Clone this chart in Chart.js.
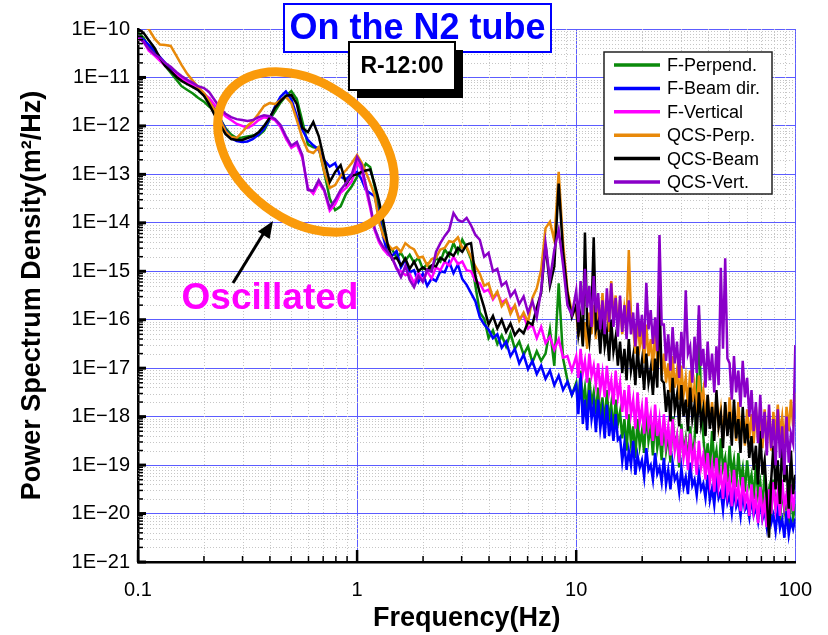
<!DOCTYPE html>
<html>
<head>
<meta charset="utf-8">
<script src="https://cdn.jsdelivr.net/npm/chart.js@4.4.1/dist/chart.umd.min.js"></script>
<style>
  html, body { margin: 0; padding: 0; background: #fff; }
  #wrap { width: 828px; height: 635px; }
</style>
</head>
<body>
<div id="wrap"><canvas id="psd" width="828" height="635"></canvas></div>
<script>
// frequency axis (Hz)
const freqs = [
  0.100,0.106,0.112,0.119,0.126,0.133,0.141,0.150,0.158,0.168,
  0.178,0.188,0.200,0.211,0.224,0.237,0.251,0.266,0.282,0.299,
  0.316,0.335,0.355,0.376,0.398,0.422,0.447,0.473,0.501,0.531,
  0.562,0.596,0.631,0.668,0.708,0.750,0.794,0.841,0.891,0.944,
  1.000,1.047,1.096,1.148,1.202,1.259,1.318,1.380,1.445,1.514,
  1.585,1.660,1.738,1.820,1.905,1.995,2.089,2.188,2.291,2.399,
  2.512,2.630,2.754,2.884,3.020,3.162,3.311,3.467,3.631,3.802,
  3.981,4.169,4.365,4.571,4.786,5.012,5.248,5.495,5.754,6.026,
  6.310,6.607,6.918,7.244,7.586,7.943,8.318,8.710,9.120,9.550,
  10.00,10.23,10.47,10.72,10.96,11.22,11.48,11.75,12.02,12.30,
  12.59,12.88,13.18,13.49,13.80,14.13,14.45,14.79,15.14,15.49,
  15.85,16.22,16.60,16.98,17.38,17.78,18.20,18.62,19.05,19.50,
  19.95,20.42,20.89,21.38,21.88,22.39,22.91,23.44,23.99,24.55,
  25.12,25.70,26.30,26.92,27.54,28.18,28.84,29.51,30.20,30.90,
  31.62,32.36,33.11,33.88,34.67,35.48,36.31,37.15,38.02,38.90,
  39.81,40.74,41.69,42.66,43.65,44.67,45.71,46.77,47.86,48.98,
  50.12,51.29,52.48,53.70,54.95,56.23,57.54,58.88,60.26,61.66,
  63.10,64.57,66.07,67.61,69.18,70.79,72.44,74.13,75.86,77.62,
  79.43,81.28,83.18,85.11,87.10,89.13,91.20,93.33,95.50,97.72,
  100.0
];

// log10 of PSD (m^2/Hz), one value per frequency
const fPerpend = [
  -10.08,-10.18,-10.38,-10.50,-10.63,-10.76,-10.90,-11.05,-11.18,-11.26,
  -11.33,-11.42,-11.50,-11.60,-11.68,-11.85,-12.05,-12.18,-12.25,-12.24,
  -12.22,-12.20,-12.20,-12.10,-11.88,-11.70,-11.52,-11.38,-11.28,-11.45,
  -11.90,-12.38,-12.44,-12.45,-12.95,-13.50,-13.74,-13.66,-13.40,-13.25,
  -13.05,-12.95,-12.78,-12.85,-13.25,-13.70,-14.20,-14.50,-14.55,-14.72,
  -14.62,-14.78,-14.66,-14.82,-14.72,-14.95,-14.85,-14.98,-14.72,-14.80,
  -14.55,-14.68,-14.42,-14.62,-14.35,-14.52,-14.75,-15.30,-15.85,-15.98,
  -16.38,-16.22,-16.50,-16.32,-16.55,-16.28,-16.60,-16.45,-16.72,-16.55,
  -16.88,-16.65,-16.85,-16.70,-16.20,-16.95,-15.25,-16.80,-17.25,-17.55,
  -17.30,-17.80,-17.05,-17.70,-17.40,-17.90,-17.20,-17.75,-17.50,-17.95,
  -17.40,-18.05,-17.60,-18.20,-17.45,-18.10,-17.75,-18.30,-17.65,-18.15,
  -17.90,-18.45,-18.05,-18.70,-17.95,-18.55,-18.20,-18.85,-18.05,-18.60,
  -18.30,-18.75,-17.85,-18.50,-18.20,-18.80,-18.00,-18.65,-18.35,-18.90,
  -18.10,-18.70,-18.35,-18.95,-18.00,-18.60,-18.40,-19.05,-18.15,-18.75,
  -18.45,-18.95,-18.20,-18.80,-18.50,-17.60,-15.90,-17.80,-18.40,-19.00,
  -18.55,-19.10,-18.30,-18.95,-18.70,-19.25,-18.45,-19.05,-18.85,-19.35,
  -18.60,-19.20,-18.90,-19.45,-18.75,-19.30,-19.05,-19.55,-18.90,-19.40,
  -19.20,-19.70,-19.00,-19.60,-19.35,-19.90,-19.15,-19.75,-19.50,-20.05,
  -19.30,-19.85,-19.60,-20.20,-19.40,-19.95,-19.70,-20.30,-19.55,-20.10,
  -19.80
];
const fBeam = [
  -10.15,-10.22,-10.33,-10.45,-10.58,-10.70,-10.82,-10.93,-11.03,-11.10,
  -11.16,-11.23,-11.33,-11.47,-11.65,-11.85,-12.08,-12.25,-12.31,-12.33,
  -12.32,-12.27,-12.18,-12.06,-11.86,-11.60,-11.40,-11.29,-11.45,-11.80,
  -12.08,-12.29,-12.40,-12.50,-12.71,-12.84,-12.77,-13.05,-13.10,-13.00,
  -12.95,-13.10,-13.32,-13.39,-13.45,-13.85,-14.30,-14.65,-14.68,-14.58,
  -14.92,-14.76,-15.02,-14.98,-15.22,-15.05,-15.30,-15.15,-15.20,-15.00,
  -15.02,-14.80,-15.04,-14.86,-15.16,-15.28,-15.45,-15.62,-15.95,-16.10,
  -16.20,-16.38,-16.30,-16.58,-16.45,-16.75,-16.60,-16.90,-16.72,-17.02,
  -16.85,-17.12,-16.95,-17.22,-17.05,-17.35,-17.15,-17.45,-17.28,-17.55,
  -17.35,-17.95,-17.10,-18.15,-17.65,-18.28,-17.45,-18.05,-17.75,-18.32,
  -17.65,-18.25,-17.90,-18.45,-17.75,-18.40,-18.05,-18.50,-17.95,-18.48,
  -18.42,-18.92,-18.55,-19.10,-18.70,-19.00,-18.50,-19.20,-18.80,-19.05,
  -18.90,-19.25,-18.65,-19.10,-19.00,-19.30,-18.75,-19.18,-19.05,-19.35,
  -18.85,-19.40,-19.10,-19.50,-18.95,-19.30,-19.20,-19.55,-19.05,-19.45,
  -19.25,-19.60,-18.95,-19.42,-19.30,-19.62,-19.15,-19.50,-19.38,-19.68,
  -19.20,-19.72,-19.48,-19.82,-19.30,-19.68,-19.55,-19.92,-19.40,-19.78,
  -19.62,-19.98,-19.50,-19.86,-19.72,-20.05,-19.58,-19.92,-19.82,-20.08,
  -19.68,-20.03,-19.86,-20.15,-19.72,-20.12,-19.95,-20.28,-19.80,-20.20,
  -20.03,-20.36,-19.92,-20.30,-20.12,-20.50,-19.95,-20.44,-20.15,-20.32,
  -20.10
];
const fVertical = [
  -10.19,-10.26,-10.45,-10.55,-10.66,-10.76,-10.86,-10.95,-11.03,-11.10,
  -11.16,-11.23,-11.34,-11.42,-11.57,-11.67,-11.80,-11.88,-11.96,-12.00,
  -12.04,-11.98,-11.88,-11.82,-11.84,-11.88,-12.02,-12.26,-12.45,-12.38,
  -12.66,-13.28,-13.40,-13.18,-13.34,-13.75,-13.62,-13.38,-13.28,-13.15,
  -12.75,-12.90,-13.30,-13.70,-14.15,-14.40,-14.55,-14.65,-14.72,-14.95,
  -15.00,-15.08,-15.05,-15.25,-15.02,-15.20,-15.00,-15.15,-14.92,-14.98,
  -14.80,-14.88,-14.70,-14.85,-14.80,-14.98,-15.00,-15.20,-15.25,-15.42,
  -15.38,-15.58,-15.45,-15.65,-15.58,-15.80,-15.72,-15.98,-15.90,-16.18,
  -16.10,-16.38,-16.15,-16.48,-16.35,-16.62,-16.40,-16.78,-16.75,-17.05,
  -16.75,-17.20,-16.60,-17.10,-16.85,-17.30,-16.70,-17.15,-16.95,-17.35,
  -16.90,-17.45,-17.10,-17.60,-16.95,-17.50,-17.25,-17.75,-17.05,-17.60,
  -17.30,-17.90,-17.45,-18.05,-17.35,-17.95,-17.65,-18.25,-17.50,-18.10,
  -17.80,-18.35,-17.60,-18.20,-17.95,-18.50,-17.75,-18.40,-18.05,-18.60,
  -17.95,-18.55,-18.20,-18.80,-18.05,-18.70,-18.40,-18.95,-18.25,-18.85,
  -18.55,-19.10,-18.35,-18.95,-18.65,-19.20,-18.50,-19.05,-18.80,-19.30,
  -18.75,-19.35,-19.00,-19.55,-18.85,-19.45,-19.15,-19.70,-18.95,-19.60,
  -19.30,-19.85,-19.10,-19.70,-19.45,-19.95,-19.25,-19.80,-19.55,-20.05,
  -19.40,-19.95,-19.65,-20.20,-19.45,-20.05,-19.75,-20.28,-19.50,-20.00,
  -19.35,-19.90,-19.55,-20.05,-19.30,-19.85,-19.60,-20.10,-19.40,-19.95,
  -19.55
];
const qcsPerp = [
  -9.90,-9.95,-10.00,-10.20,-10.32,-10.33,-10.35,-10.56,-10.74,-10.93,
  -11.07,-11.20,-11.32,-11.49,-11.67,-11.88,-12.11,-12.23,-12.25,-12.13,
  -12.00,-11.90,-11.75,-11.59,-11.53,-11.55,-11.47,-11.40,-11.53,-11.88,
  -12.25,-12.52,-12.56,-12.44,-12.95,-13.28,-13.22,-13.03,-12.91,-12.77,
  -12.60,-12.75,-12.95,-13.18,-13.43,-13.98,-14.27,-14.44,-14.55,-14.50,
  -14.60,-14.42,-14.50,-14.55,-14.72,-14.70,-14.88,-14.75,-14.72,-14.55,
  -14.52,-14.38,-14.40,-14.30,-14.52,-14.50,-14.70,-14.90,-15.05,-15.30,
  -15.25,-15.55,-15.42,-15.72,-15.60,-15.88,-15.70,-16.02,-15.85,-16.05,
  -15.55,-15.35,-14.97,-14.11,-13.98,-14.36,-12.95,-14.42,-15.39,-15.84,
  -15.80,-16.35,-15.95,-16.50,-16.05,-16.60,-15.85,-16.30,-15.70,-16.40,
  -15.55,-16.20,-15.45,-16.10,-15.70,-16.25,-15.20,-15.95,-15.50,-16.15,
  -15.60,-16.30,-15.75,-16.05,-14.56,-15.90,-16.15,-16.70,-16.00,-16.55,
  -16.25,-16.90,-16.10,-16.75,-16.40,-17.05,-16.20,-16.85,-16.50,-17.15,
  -16.70,-17.30,-16.90,-17.50,-16.75,-17.40,-17.05,-17.65,-16.95,-17.55,
  -17.20,-17.80,-17.05,-17.70,-17.35,-17.95,-17.15,-17.75,-17.45,-18.00,
  -17.55,-18.15,-17.70,-18.30,-17.60,-18.20,-17.85,-18.45,-17.75,-18.35,
  -17.60,-18.25,-17.90,-18.50,-17.70,-18.40,-18.00,-18.60,-17.85,-18.45,
  -17.95,-18.55,-17.80,-18.50,-18.05,-18.65,-17.85,-18.45,-18.10,-18.70,
  -17.90,-18.40,-17.75,-18.35,-18.00,-18.55,-17.80,-18.30,-17.65,-18.20,
  -17.50
];
const qcsBeam = [
  -10.00,-10.08,-10.23,-10.39,-10.60,-10.76,-10.87,-10.99,-11.07,-11.14,
  -11.20,-11.26,-11.38,-11.55,-11.78,-11.98,-12.17,-12.27,-12.29,-12.29,
  -12.25,-12.21,-12.13,-12.00,-11.84,-11.63,-11.49,-11.38,-11.36,-11.55,
  -12.04,-12.13,-11.92,-12.21,-12.70,-13.16,-12.95,-12.81,-13.20,-13.03,
  -13.00,-12.95,-12.92,-12.90,-13.20,-13.55,-13.98,-14.45,-14.75,-14.72,
  -14.88,-14.74,-14.95,-14.80,-15.00,-14.92,-14.98,-14.88,-14.90,-14.72,
  -14.78,-14.62,-14.68,-14.52,-14.60,-14.45,-14.42,-15.10,-15.45,-15.75,
  -16.10,-15.92,-16.18,-16.00,-16.25,-16.08,-16.32,-16.20,-16.28,-16.05,
  -16.10,-15.75,-15.45,-14.45,-15.30,-14.90,-13.19,-14.60,-15.45,-15.95,
  -15.70,-16.30,-15.95,-16.55,-14.20,-16.10,-16.45,-15.85,-14.30,-16.20,
  -16.05,-16.70,-15.90,-16.55,-16.25,-16.85,-16.00,-16.65,-16.35,-16.95,
  -16.45,-17.10,-16.60,-17.25,-16.40,-17.05,-16.75,-17.35,-16.55,-17.20,
  -16.85,-17.45,-16.70,-17.30,-17.00,-17.55,-16.80,-17.40,-15.50,-17.25,
  -17.30,-17.90,-17.45,-18.10,-17.20,-17.85,-17.55,-18.20,-17.35,-18.00,
  -17.65,-18.30,-17.40,-18.05,-17.75,-18.35,-17.50,-18.15,-17.85,-18.40,
  -17.55,-18.25,-17.80,-18.50,-17.45,-18.20,-17.95,-18.65,-17.70,-18.40,
  -17.90,-18.60,-17.65,-18.45,-18.05,-18.75,-17.80,-18.55,-18.15,-18.85,
  -18.40,-19.10,-18.60,-19.40,-18.30,-19.20,-18.90,-19.70,-20.50,-19.30,
  -18.60,-19.50,-18.90,-19.80,-18.50,-19.35,-19.00,-19.90,-18.70,-19.60,
  -19.20
];
const qcsVert = [
  -10.14,-10.27,-10.41,-10.52,-10.60,-10.70,-10.78,-10.89,-10.97,-11.05,
  -11.11,-11.18,-11.22,-11.30,-11.47,-11.63,-11.75,-11.82,-11.86,-11.88,
  -11.90,-11.88,-11.82,-11.78,-11.80,-11.86,-11.98,-12.21,-12.41,-12.33,
  -12.60,-13.32,-13.34,-13.12,-13.32,-13.69,-13.53,-13.32,-13.18,-13.01,
  -12.64,-12.81,-13.22,-13.63,-14.11,-14.35,-14.50,-14.60,-14.73,-14.93,
  -15.12,-14.89,-15.18,-15.33,-15.10,-15.22,-14.97,-15.01,-14.60,-14.42,
  -14.27,-14.15,-13.80,-13.94,-13.98,-13.90,-14.05,-14.25,-14.35,-14.70,
  -14.62,-15.00,-14.95,-15.30,-15.22,-15.52,-15.40,-15.68,-15.52,-15.85,
  -15.62,-15.95,-15.39,-14.42,-15.18,-14.56,-14.15,-14.87,-15.70,-15.90,
  -15.40,-16.05,-15.20,-15.90,-14.95,-15.75,-15.30,-16.15,-15.10,-15.85,
  -15.45,-16.20,-15.60,-16.30,-15.35,-16.05,-15.25,-16.15,-15.55,-16.35,
  -15.50,-16.25,-15.70,-16.40,-15.60,-16.30,-15.85,-16.55,-15.65,-16.35,
  -15.90,-16.60,-15.24,-16.20,-15.80,-16.50,-15.95,-16.65,-14.25,-16.10,
  -16.10,-16.85,-16.30,-17.05,-16.15,-16.90,-16.45,-17.20,-16.25,-17.00,
  -15.39,-16.70,-16.55,-17.30,-16.35,-17.10,-15.70,-16.95,-16.60,-17.40,
  -16.45,-17.25,-16.70,-17.50,-16.55,-17.35,-14.93,-16.60,-14.73,-16.80,
  -16.90,-17.65,-16.75,-17.50,-17.05,-17.80,-16.85,-17.60,-17.20,-18.00,
  -17.45,-18.30,-17.70,-18.55,-17.55,-18.45,-17.90,-18.80,-17.75,-18.65,
  -18.05,-19.00,-17.85,-18.85,-18.20,-19.20,-18.00,-18.95,-18.35,-18.55,
  -16.52
];

const seriesNames = ['F-Perpend.', 'F-Beam dir.', 'F-Vertical', 'QCS-Perp.', 'QCS-Beam', 'QCS-Vert.'];
const seriesColors = ['#0b8a0b', '#0000ff', '#ff00ff', '#e8890a', '#000000', '#8a00c8'];
const seriesLogs = [fPerpend, fBeam, fVertical, qcsPerp, qcsBeam, qcsVert];

const xTickValues = [0.1, 1, 10, 100];
const xTickLabels = ['0.1', '1', '10', '100'];
const yTickValues = [1e-21, 1e-20, 1e-19, 1e-18, 1e-17, 1e-16, 1e-15, 1e-14, 1e-13, 1e-12, 1e-11, 1e-10];
const yTickLabels = ['1E\u221221', '1E\u221220', '1E\u221219', '1E\u221218', '1E\u221217', '1E\u221216',
                     '1E\u221215', '1E\u221214', '1E\u221213', '1E\u221212', '1E\u221211', '1E\u221210'];

const FONT = '"Liberation Sans", Arial, sans-serif';

seriesLogs.forEach(function(arr, s) {
  if (arr.length !== freqs.length) console.error(seriesNames[s], arr.length, freqs.length);
});

const datasets = seriesNames.map(function(name, s) {
  return {
    label: name,
    data: freqs.map(function(f, i) { return { x: f, y: Math.pow(10, seriesLogs[s][i]) }; }),
    borderColor: seriesColors[s],
    backgroundColor: seriesColors[s],
    borderWidth: 2.5,
    pointRadius: 0,
    tension: 0,
    fill: false,
    order: seriesNames.length - s   // later series on top, like the original
  };
});

// minor grid, inside tick marks and the slide annotations
const decor = {
  id: 'decor',
  beforeDatasetsDraw: function(chart) {
    const ctx = chart.ctx, a = chart.chartArea;
    const xs = chart.scales.x, ys = chart.scales.y;
    ctx.save();
    ctx.strokeStyle = '#c6c6c6';
    ctx.lineWidth = 1;
    ctx.setLineDash([1, 2]);
    for (let p = -1; p < 2; p++) {
      for (let m = 2; m < 10; m++) {
        const x = Math.round(xs.getPixelForValue(m * Math.pow(10, p))) + 0.5;
        ctx.beginPath(); ctx.moveTo(x, a.top); ctx.lineTo(x, a.bottom); ctx.stroke();
      }
    }
    for (let p = -21; p < -10; p++) {
      for (let m = 2; m < 10; m++) {
        const y = Math.round(ys.getPixelForValue(m * Math.pow(10, p))) + 0.5;
        ctx.beginPath(); ctx.moveTo(a.left, y); ctx.lineTo(a.right, y); ctx.stroke();
      }
    }
    ctx.restore();
  },
  afterDraw: function(chart) {
    const ctx = chart.ctx, a = chart.chartArea;
    const xs = chart.scales.x, ys = chart.scales.y;
    ctx.save();

    // tick marks inside the plot
    ctx.strokeStyle = '#000';
    for (let p = -21; p < -10; p++) {
      for (let m = 1; m < 10; m++) {
        const y = ys.getPixelForValue(m * Math.pow(10, p));
        ctx.lineWidth = m === 1 ? 3 : 1.5;
        ctx.beginPath(); ctx.moveTo(a.left, y); ctx.lineTo(a.left + (m === 1 ? 8 : 5), y); ctx.stroke();
      }
    }
    for (let p = -1; p < 2; p++) {
      for (let m = 1; m < 10; m++) {
        const x = xs.getPixelForValue(m * Math.pow(10, p));
        ctx.lineWidth = m === 1 ? 2.5 : 1.5;
        ctx.beginPath(); ctx.moveTo(x, a.bottom); ctx.lineTo(x, a.bottom - (m === 1 ? 12 : 6)); ctx.stroke();
      }
    }

    // orange ellipse
    ctx.strokeStyle = '#fa9a0a';
    ctx.lineWidth = 9;
    ctx.beginPath();
    ctx.ellipse(306, 152, 98, 68, 37 * Math.PI / 180, 0, Math.PI * 2);
    ctx.stroke();

    // arrow
    ctx.strokeStyle = '#000';
    ctx.fillStyle = '#000';
    ctx.lineWidth = 3;
    ctx.beginPath(); ctx.moveTo(233, 283); ctx.lineTo(265, 231); ctx.stroke();
    const ang = Math.atan2(221 - 283, 273 - 233);
    ctx.beginPath();
    ctx.moveTo(273, 221);
    ctx.lineTo(273 - 17 * Math.cos(ang) + 7 * Math.sin(ang), 221 - 17 * Math.sin(ang) - 7 * Math.cos(ang));
    ctx.lineTo(273 - 17 * Math.cos(ang) - 7 * Math.sin(ang), 221 - 17 * Math.sin(ang) + 7 * Math.cos(ang));
    ctx.closePath();
    ctx.fill();

    ctx.fillStyle = '#ff00ff';
    ctx.font = 'bold 37px ' + FONT;
    ctx.textAlign = 'center';
    ctx.textBaseline = 'middle';
    ctx.fillText('Oscillated', 270, 299);

    // title box
    ctx.fillStyle = '#fff';
    ctx.fillRect(284, 4, 267, 48);
    ctx.strokeStyle = '#0000ff';
    ctx.lineWidth = 2;
    ctx.strokeRect(284, 4, 267, 48);
    ctx.fillStyle = '#0000ff';
    ctx.font = 'bold 36px ' + FONT;
    ctx.fillText('On the N2 tube', 417.5, 29);

    // R-12:00 box with shadow
    ctx.fillStyle = '#000';
    ctx.fillRect(357, 50, 106, 48);
    ctx.fillStyle = '#fff';
    ctx.fillRect(349, 42, 106, 48);
    ctx.strokeStyle = '#000';
    ctx.lineWidth = 2;
    ctx.strokeRect(349, 42, 106, 48);
    ctx.fillStyle = '#000';
    ctx.font = 'bold 23px ' + FONT;
    ctx.fillText('R-12:00', 402, 67);

    // legend
    ctx.fillStyle = '#fff';
    ctx.fillRect(604, 52, 168, 142);
    ctx.strokeStyle = '#222';
    ctx.lineWidth = 1.5;
    ctx.strokeRect(604, 52, 168, 142);
    ctx.font = '18px ' + FONT;
    ctx.textAlign = 'left';
    for (let s = 0; s < seriesNames.length; s++) {
      const yy = 65 + s * 23.4;
      ctx.strokeStyle = seriesColors[s];
      ctx.lineWidth = 3.5;
      ctx.beginPath(); ctx.moveTo(614, yy); ctx.lineTo(660, yy); ctx.stroke();
      ctx.fillStyle = '#000';
      ctx.fillText(seriesNames[s], 667, yy + 1);
    }
    ctx.restore();
  }
};

new Chart(document.getElementById('psd').getContext('2d'), {
  type: 'line',
  data: { datasets: datasets },
  plugins: [decor],
  options: {
    responsive: false,
    devicePixelRatio: 1,
    animation: false,
    layout: { padding: { top: 29, right: 32, left: 0, bottom: 0 } },
    plugins: { legend: { display: false }, tooltip: { enabled: false } },
    scales: {
      x: {
        type: 'logarithmic',
        min: 0.1,
        max: 100,
        afterBuildTicks: function(s) { s.ticks = xTickValues.map(function(v) { return { value: v }; }); },
        afterFit: function(s) { s.height = 73; },
        ticks: {
          autoSkip: false,
          maxRotation: 0,
          padding: 16,
          color: '#000',
          font: { family: FONT, size: 20 },
          callback: function(v, i) { return xTickLabels[i]; }
        },
        grid: { color: '#5c5cff', lineWidth: 1, drawTicks: false },
        border: { color: '#000', width: 2.5 },
        title: {
          display: true,
          text: 'Frequency(Hz)',
          color: '#000',
          font: { family: FONT, size: 27, weight: 'bold' },
          padding: { top: 0, bottom: 0 }
        }
      },
      y: {
        type: 'logarithmic',
        min: 1e-21,
        max: 1e-10,
        afterBuildTicks: function(s) { s.ticks = yTickValues.map(function(v) { return { value: v }; }); },
        afterFit: function(s) { s.width = 138; },
        ticks: {
          autoSkip: false,
          padding: 8,
          color: '#000',
          font: { family: FONT, size: 20 },
          callback: function(v, i) { return yTickLabels[i]; }
        },
        grid: { color: '#5c5cff', lineWidth: 1, drawTicks: false },
        border: { color: '#000', width: 2.5 },
        title: {
          display: true,
          text: 'Power Spectrum Density(m\u00b2/Hz)',
          color: '#000',
          font: { family: FONT, size: 27, weight: 'bold' },
          padding: { top: 16, bottom: 0 }
        }
      }
    }
  }
});
</script>
</body>
</html>
